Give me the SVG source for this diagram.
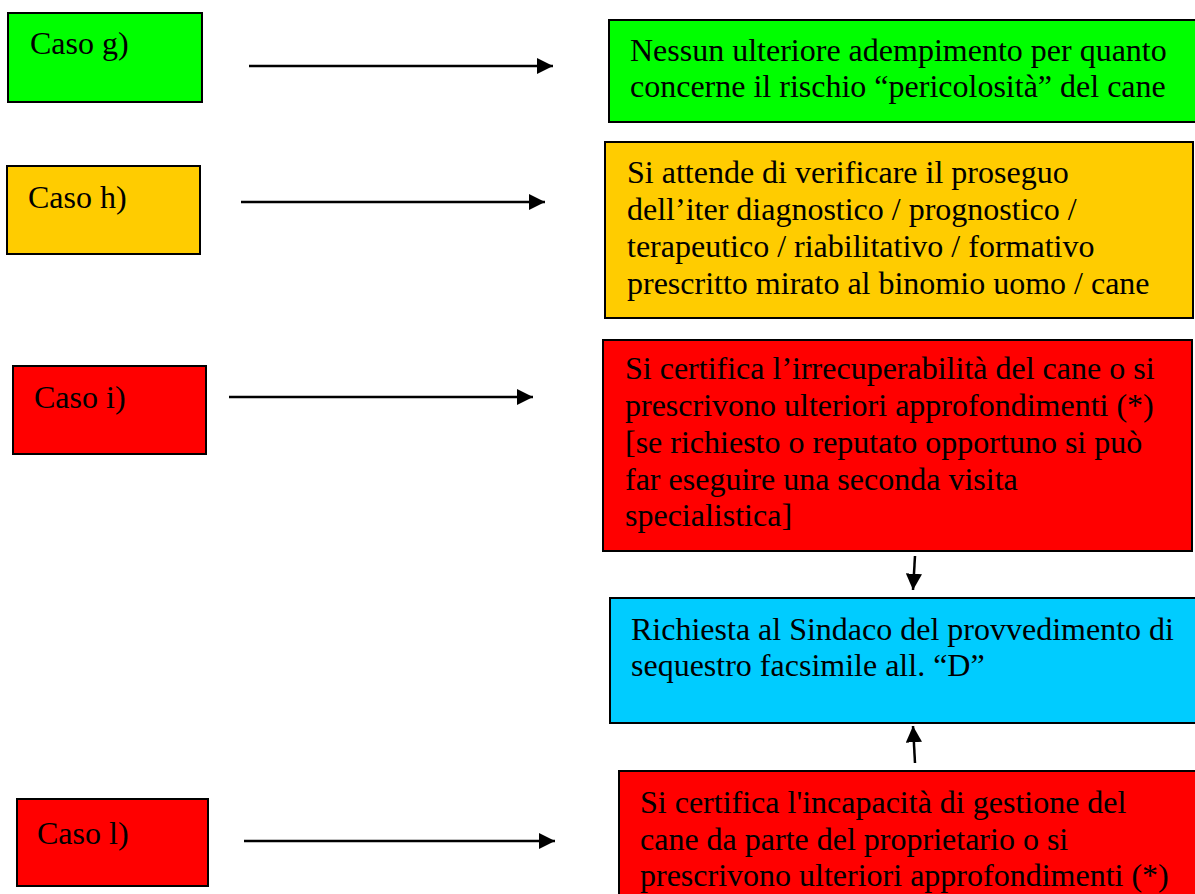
<svg xmlns="http://www.w3.org/2000/svg" width="1195" height="894" viewBox="0 0 1195 894">
<style>
.box{stroke:#000;stroke-width:2}
.g{fill:#00ff00}.y{fill:#ffcc00}.r{fill:#ff0000}.b{fill:#00ccff}
text{font-family:"Liberation Serif","Times New Roman",serif;font-size:32px;fill:#000}
.c line{stroke:#000;stroke-width:2.5}
</style>
<defs>
<marker id="ah" viewBox="0 0 10 10" refX="10" refY="5" markerWidth="6.5" markerHeight="6.5" markerUnits="strokeWidth" orient="auto">
<path d="M0,0 L10,5 L0,10 z" fill="#000"/>
</marker>
</defs>
<rect width="1195" height="894" fill="#fff"/>
<g id="caso-g"><rect class="box g" x="8" y="13" width="194" height="89"/><text x="30" y="54">Caso g)</text></g>
<g id="caso-h"><rect class="box y" x="7" y="166" width="193" height="88"/><text x="28" y="208">Caso h)</text></g>
<g id="caso-i"><rect class="box r" x="13" y="366" width="193" height="88"/><text x="34" y="408">Caso i)</text></g>
<g id="caso-l"><rect class="box r" x="17" y="799" width="191" height="87"/><text x="37" y="844">Caso l)</text></g>
<g id="esito-g"><rect class="box g" x="609" y="20" width="600" height="102"/>
<text x="630" y="61">Nessun ulteriore adempimento per quanto</text>
<text x="630" y="97">concerne il rischio “pericolosità” del cane</text></g>
<g id="esito-h"><rect class="box y" x="605" y="142" width="588" height="176"/>
<text x="627" y="183">Si attende di verificare il proseguo</text>
<text x="627" y="220">dell’iter diagnostico / prognostico /</text>
<text x="627" y="257">terapeutico / riabilitativo / formativo</text>
<text x="627" y="294">prescritto mirato al binomio uomo / cane</text></g>
<g id="esito-i"><rect class="box r" x="603" y="340" width="589" height="211"/>
<text x="625" y="379">Si certifica l’irrecuperabilità del cane o si</text>
<text x="625" y="416">prescrivono ulteriori approfondimenti (*)</text>
<text x="625" y="453">[se richiesto o reputato opportuno si può</text>
<text x="625" y="490">far eseguire una seconda visita</text>
<text x="625" y="526">specialistica]</text></g>
<g id="sequestro"><rect class="box b" x="610" y="598" width="600" height="125"/>
<text x="631" y="640">Richiesta al Sindaco del provvedimento di</text>
<text x="631" y="676">sequestro facsimile all. “D”</text></g>
<g id="esito-l"><rect class="box r" x="619" y="771" width="600" height="140"/>
<text x="640" y="813">Si certifica l'incapacità di gestione del</text>
<text x="640" y="850">cane da parte del proprietario o si</text>
<text x="640" y="886">prescrivono ulteriori approfondimenti (*)</text></g>
<g class="c" id="connectors">
<line x1="249" y1="66" x2="553" y2="66" marker-end="url(#ah)"/>
<line x1="241" y1="202" x2="545" y2="202" marker-end="url(#ah)"/>
<line x1="229" y1="397" x2="533" y2="397" marker-end="url(#ah)"/>
<line x1="244" y1="841" x2="555" y2="841" marker-end="url(#ah)"/>
<line x1="915" y1="556" x2="913" y2="590" marker-end="url(#ah)"/>
<line x1="915" y1="763" x2="913" y2="726" marker-end="url(#ah)"/>
</g>
</svg>
